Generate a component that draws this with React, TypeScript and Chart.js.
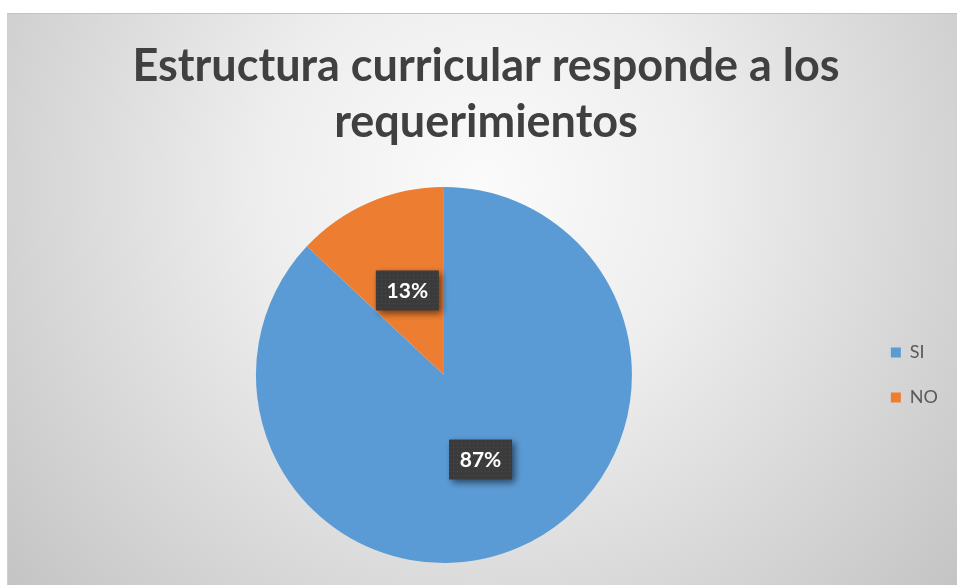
import React, { useEffect, useRef } from "react";
import { Chart, registerables } from "chart.js";

Chart.register(...registerables);

const titleLines = ["Estructura curricular responde a los", "requerimientos"];
const categories = ["SI", "NO"];
const values = [87, 13];
const colors = ["#5B9BD5", "#ED7D31"];

const W = 950;
const H = 572;

const labelPlugin = {
  id: "boxLabels",
  afterDatasetsDraw(chart: any) {
    const ctx = chart.ctx as CanvasRenderingContext2D;
    const meta = chart.getDatasetMeta(0);
    const data = chart.data.datasets[0].data as number[];
    const total = data.reduce((a, b) => a + b, 0);
    const pc = document.createElement("canvas");
    pc.width = 4;
    pc.height = 4;
    const p = pc.getContext("2d")!;
    p.fillStyle = "#3b3b3b";
    p.fillRect(0, 0, 4, 4);
    p.fillStyle = "#4a4a4a";
    p.fillRect(1, 1, 1, 1);
    const pattern = ctx.createPattern(pc, "repeat")!;
    meta.data.forEach((arc: any, i: number) => {
      const { x, y, startAngle, endAngle, outerRadius } = arc.getProps(
        ["x", "y", "startAngle", "endAngle", "outerRadius"],
        true
      );
      const mid = (startAngle + endAngle) / 2;
      const r = outerRadius * 0.49;
      const cx = x + Math.cos(mid) * r;
      const cy = y + Math.sin(mid) * r;
      const text = Math.round((data[i] / total) * 100) + "%";
      const bw = 63;
      const bh = 40;
      ctx.save();
      ctx.shadowColor = "rgba(0,0,0,0.55)";
      ctx.shadowBlur = 7;
      ctx.shadowOffsetX = 3;
      ctx.shadowOffsetY = 3;
      ctx.fillStyle = pattern;
      ctx.fillRect(cx - bw / 2, cy - bh / 2, bw, bh);
      ctx.restore();
      ctx.save();
      ctx.fillStyle = "#ffffff";
      ctx.font = "bold 21px Lato";
      ctx.textAlign = "center";
      ctx.textBaseline = "middle";
      ctx.fillText(text, cx, cy + 1);
      ctx.restore();
    });
  },
};

export default function App() {
  const ref = useRef<HTMLCanvasElement>(null);
  useEffect(() => {
    if (!ref.current) return;
    const chart = new Chart(ref.current, {
      type: "pie",
      data: {
        labels: categories,
        datasets: [
          {
            data: values,
            backgroundColor: colors,
            borderWidth: 0,
          },
        ],
      },
      options: {
        responsive: false,
        animation: false,
        layout: { padding: { left: 16, right: 10, top: 0, bottom: 23 } },
        plugins: {
          title: {
            display: true,
            text: titleLines,
            color: "#404040",
            font: { family: "Lato", weight: "bold", size: 45, lineHeight: 56 / 45 },
            padding: { top: 24, bottom: 37 },
          },
          legend: {
            display: true,
            position: "right",
            align: "center",
            fullSize: false,
            labels: {
              boxWidth: 10,
              boxHeight: 10,
              color: "#595959",
              font: { family: "Lato", size: 18 },
              padding: 27,
            },
          },
          tooltip: { enabled: false },
        },
      },
      plugins: [labelPlugin],
    });
    return () => chart.destroy();
  }, []);
  return (
    <div
      style={{
        position: "absolute",
        left: 7,
        top: 13,
        width: W,
        height: H,
        borderTop: "1px solid #c4c4c4",
        borderLeft: "1px solid #cfcfcf",
        boxSizing: "border-box",
        background:
          "radial-gradient(circle farthest-corner at 50% 30%, #fbfbfb 0%, #eeeeee 35%, #c4c4c4 100%)",
        overflow: "hidden",
      }}
    >
      <canvas ref={ref} width={W} height={H} style={{ display: "block" }} />
    </div>
  );
}
